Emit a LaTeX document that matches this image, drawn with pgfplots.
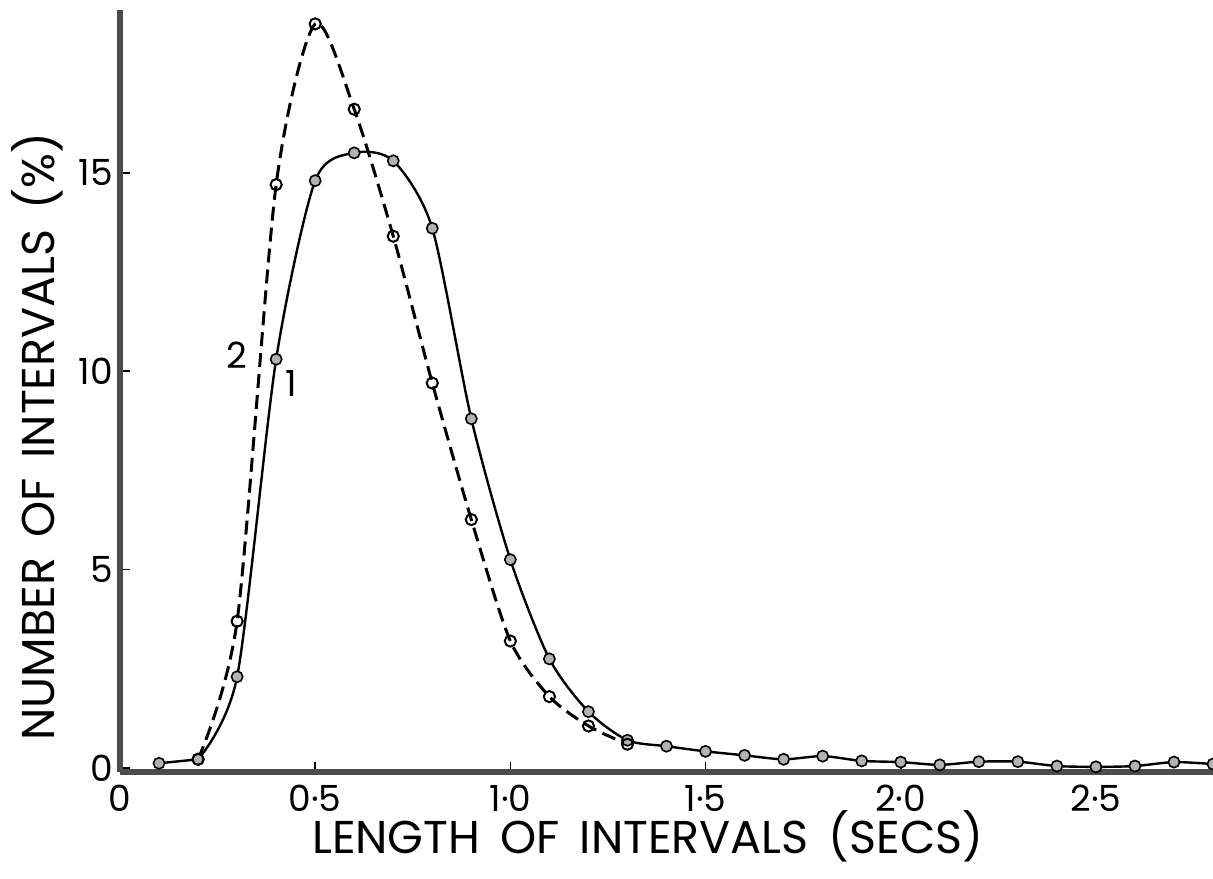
\documentclass[border=0pt]{standalone}
\usepackage{fontspec}
\setmainfont{Poppins}
\usepackage{pgfplots}
\pgfplotsset{compat=1.18}
\begin{document}
\begin{tikzpicture}
\begin{axis}[
  width=546.5pt, height=381pt, scale only axis,
  xmin=0, xmax=2.8, ymin=-0.1, ymax=19.1,
  axis x line*=bottom, axis y line*=left,
  axis line style={-, line width=2.6pt, black!70},
  xtick={0,0.5,1,1.5,2,2.5}, xticklabels={0,0·5,1·0,1·5,2·0,2·5},
  ytick={0,5,10,15}, yticklabels={0,5,10,15},
  tick align=inside, major tick length=5pt,
  tick style={black, line width=0.8pt},
  ticklabel style={font=\fontsize{18}{18}\selectfont},
  xticklabel style={yshift=-3pt},
  xlabel={LENGTH \,OF \,INTERVALS \,(SECS)},
  ylabel={NUMBER \,OF \,INTERVALS \,(\%)},
  label style={font=\fontsize{23}{23}\selectfont, inner sep=0pt},
  xlabel style={at={(rel axis cs:0.483,-0.05)}, anchor=north},
  ylabel style={at={(rel axis cs:-0.052,0.44)}, anchor=south},
  clip=false,
]
\addplot[black, line width=1.2pt, forget plot,
  mark=*, mark size=2.8pt, mark options={fill=black!30, draw=black, line width=0.8pt}]
coordinates {(0.1,0.12) (0.2,0.22)};
\addplot[black, line width=1.2pt, smooth, tension=0.45,
  mark=*, mark size=2.8pt, mark options={fill=black!30, draw=black, line width=0.8pt}]
coordinates {
(0.2,0.22) (0.3,2.3) (0.4,10.3) (0.5,14.8) (0.6,15.5) (0.7,15.3)
(0.8,13.6) (0.9,8.8) (1.0,5.25) (1.1,2.75) (1.2,1.42) (1.3,0.7) (1.4,0.55)
(1.5,0.42) (1.6,0.32) (1.7,0.22) (1.8,0.3) (1.9,0.18) (2.0,0.15) (2.1,0.08)
(2.2,0.16) (2.3,0.16) (2.4,0.05) (2.5,0.03) (2.6,0.05) (2.7,0.15) (2.8,0.1)
};
\addplot[black, line width=1.5pt, dash pattern=on 7pt off 3.5pt, smooth, tension=0.45,
  mark=o, mark size=2.8pt, mark options={solid, fill=white, draw=black, line width=1pt}]
coordinates {
(0.2,0.22) (0.3,3.7) (0.4,14.7) (0.5,18.75) (0.6,16.6) (0.7,13.4) (0.8,9.7)
(0.9,6.26) (1.0,3.2) (1.1,1.8) (1.2,1.06) (1.3,0.6)
};
\node[font=\fontsize{18}{18}\selectfont] at (axis cs:0.30,10.4) {2};
\node[font=\fontsize{18}{18}\selectfont] at (axis cs:0.44,9.7) {1};
\end{axis}
\pgfresetboundingbox
\path ([xshift=-60pt,yshift=-53pt]current axis.south west) rectangle ([yshift=5pt]current axis.north east);
\end{tikzpicture}
\end{document}
